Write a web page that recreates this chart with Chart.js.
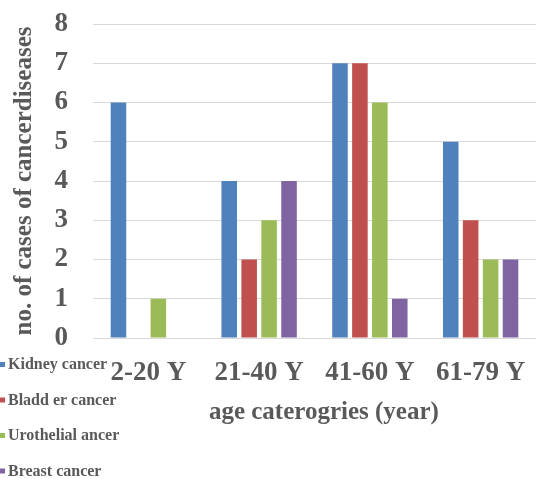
<!DOCTYPE html>
<html lang="en">
<head>
  <meta charset="UTF-8">
  <title>Cancer cases by age category</title>
  <script src="https://cdn.jsdelivr.net/npm/chart.js"></script>
  <style>
    html, body { margin: 0; padding: 0; background: #fff; }
    #wrap { width: 536px; height: 479px; position: relative; }
  </style>
</head>
<body>
  <div id="wrap"><canvas id="cancerChart"></canvas></div>

  <script>
    // data
    const ageGroups = ['2-20 Y', '21-40 Y', '41-60 Y', '61-79 Y'];
    const kidney = [6, 4, 7, 5];
    const bladder = [0, 2, 7, 3];
    const urothelial = [1, 3, 6, 2];
    const breast = [0, 4, 1, 2];
    const seriesNames = ['Kidney cancer', 'Bladd er cancer', 'Urothelial ancer', 'Breast cancer'];
    const yTicks = [0, 1, 2, 3, 4, 5, 6, 7, 8];

    const colors = ['#4f81bd', '#c0504d', '#9bbb59', '#8064a2'];
    const textColor = '#595959';
    const serif = "'Liberation Serif', 'Times New Roman', serif";

    // legend stacked down the bottom-left corner
    const sideLegend = {
      id: 'sideLegend',
      afterDraw(chart) {
        const c = chart.ctx;
        c.save();
        c.font = 'bold 16px ' + serif;
        c.textBaseline = 'middle';
        c.textAlign = 'left';
        chart.data.datasets.forEach((ds, i) => {
          const y = 365 + i * 35.5;
          c.fillStyle = ds.backgroundColor;
          c.fillRect(0, y - 3, 5, 5);
          c.fillStyle = textColor;
          c.fillText(ds.label, 8, y);
        });
        c.restore();
      }
    };

    const ctx = document.getElementById('cancerChart').getContext('2d');
    const allSeries = [kidney, bladder, urothelial, breast];

    new Chart(ctx, {
      type: 'bar',
      data: {
        labels: ageGroups,
        datasets: allSeries.map((vals, i) => ({
          label: seriesNames[i],
          data: vals,
          backgroundColor: colors[i],
          borderWidth: 0,
          categoryPercentage: 0.72,
          barPercentage: 0.78
        }))
      },
      options: {
        responsive: true,
        maintainAspectRatio: false,
        animation: false,
        layout: { padding: { top: 24, right: 0, left: 0, bottom: 0 } },
        plugins: {
          legend: { display: false },
          tooltip: { enabled: false }
        },
        scales: {
          x: {
            grid: { display: false, drawOnChartArea: false, tickLength: 19, tickColor: 'transparent' },
            border: { display: false },
            ticks: {
              padding: 0,
              color: textColor,
              font: { family: serif, size: 27, weight: 'bold' },
              maxRotation: 0,
              autoSkip: false
            },
            title: {
              display: true,
              text: '\u00a0\u00a0\u00a0age caterogries (year)',
              color: textColor,
              font: { family: serif, size: 25, weight: 'bold' },
              padding: { top: 0, bottom: 51 }
            },
            afterFit(scale) { scale.height = 141; }
          },
          y: {
            min: 0,
            max: 8,
            afterBuildTicks(scale) { scale.ticks = yTicks.map(v => ({ value: v })); },
            grid: { color: '#d9d9d9', lineWidth: 1, tickLength: 25, tickColor: 'transparent' },
            border: { display: false },
            ticks: {
              padding: 0,
              color: textColor,
              font: { family: serif, size: 27, weight: 'bold' }
            },
            title: {
              display: true,
              text: 'no. of cases of cancerdiseases',
              color: textColor,
              font: { family: serif, size: 25, weight: 'bold' },
              padding: { top: 10, bottom: 0 }
            },
            afterFit(scale) { scale.width = 93; }
          }
        }
      },
      plugins: [sideLegend]
    });
  </script>
</body>
</html>
